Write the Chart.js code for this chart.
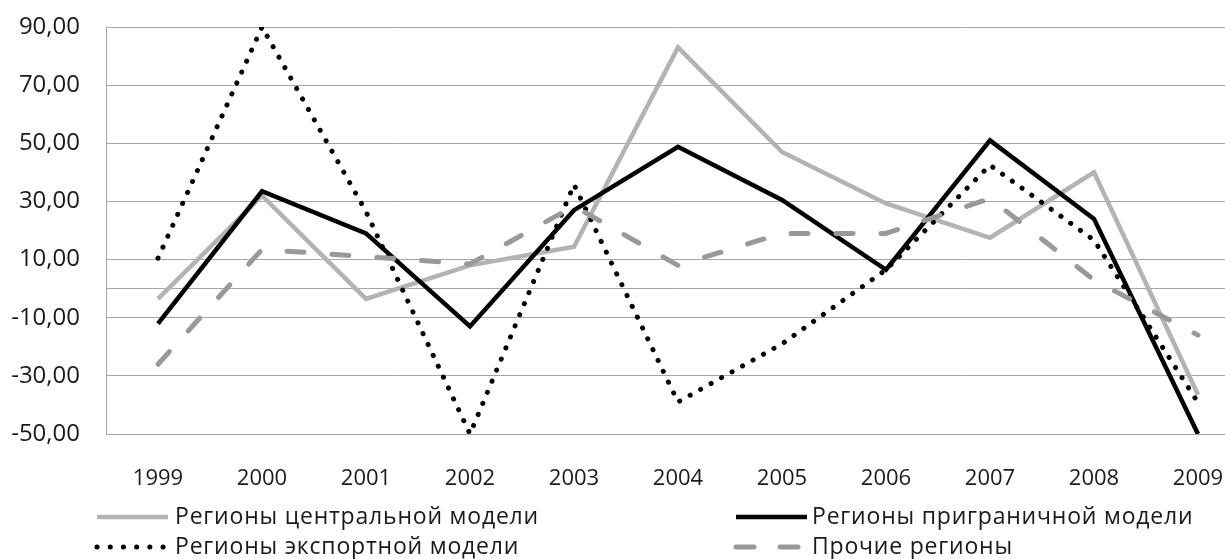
<!DOCTYPE html>
<html>
<head>
<meta charset="utf-8">
<script src="https://cdn.jsdelivr.net/npm/chart.js@4/dist/chart.umd.min.js"></script>
<style>
  html, body { margin: 0; padding: 0; background: #fff; overflow: hidden; }
  #wrap { width: 1260px; height: 559px; }
</style>
</head>
<body>
<div id="wrap"><canvas id="c" width="1260" height="559"></canvas></div>
<script>
// ---- data ----
const categories = ['1999','2000','2001','2002','2003','2004','2005','2006','2007','2008','2009'];
const seriesNames = ['Регионы центральной модели','Регионы приграничной модели','Регионы экспортной модели','Прочие регионы'];
const centralModel = [-3.5, 32, -3.5, 8, 14.4, 83, 47, 29.3, 17.5, 40, -36.5];
const borderModel  = [-12, 33.5, 19, -13, 27, 48.8, 30.5, 6.5, 51, 24, -50];
const exportModel  = [10.5, 90, 26.5, -50, 35.8, -39, -19, 6.5, 42.5, 16.7, -39.2];
const otherRegions = [-26, 13.5, 11, 8.5, 28.4, 8, 19, 19, 31, 3, -16];
const yTickValues  = [-50, -30, -10, 0, 10, 30, 50, 70, 90];
const yLabelledTicks = [-50, -30, -10, 10, 30, 50, 70, 90];

const FONT = "'Open Sans', 'Noto Sans', sans-serif";

const legendPlugin = {
  id: 'twoColLegend',
  afterDraw(chart) {
    const ctx = chart.ctx;
    const colLine = [97, 736];
    const colText = [175, 812];
    const rowY = [517, 547];
    chart.data.datasets.forEach((ds, i) => {
      const col = i % 2, row = Math.floor(i / 2);
      const y = rowY[row];
      ctx.save();
      ctx.strokeStyle = ds.borderColor;
      ctx.lineWidth = ds.borderWidth;
      ctx.lineCap = ds.borderCapStyle || 'butt';
      ctx.setLineDash(ds.legendDash || ds.borderDash || []);
      ctx.beginPath();
      ctx.moveTo(colLine[col], y);
      ctx.lineTo(colLine[col] + 71, y);
      ctx.stroke();
      ctx.setLineDash([]);
      ctx.fillStyle = '#1a1a1a';
      ctx.font = '23px ' + FONT;
      if ('letterSpacing' in ctx) ctx.letterSpacing = '0.8px';
      ctx.textBaseline = 'middle';
      ctx.textAlign = 'left';
      ctx.fillText(ds.label, colText[col], y);
      ctx.restore();
    });
  }
};

new Chart(document.getElementById('c'), {
  type: 'line',
  data: {
    labels: categories,
    datasets: [
      { label: seriesNames[0], data: centralModel, borderColor: '#b3b3b3', borderWidth: 4.5,
        borderCapStyle: 'butt', borderJoinStyle: 'miter', order: 4 },
      { label: seriesNames[1], data: borderModel, borderColor: '#000000', borderWidth: 4.5,
        borderCapStyle: 'butt', borderJoinStyle: 'miter', order: 3 },
      { label: seriesNames[2], data: exportModel, borderColor: '#000000', borderWidth: 5,
        borderDash: [0.1, 11.9], legendDash: [0.1, 13.1], borderCapStyle: 'round', borderJoinStyle: 'round', order: 2 },
      { label: seriesNames[3], data: otherRegions, borderColor: '#999999', borderWidth: 5,
        borderDash: [17, 28], legendDash: [18, 26], borderCapStyle: 'round', borderJoinStyle: 'round', order: 1 }
    ]
  },
  options: {
    responsive: false,
    devicePixelRatio: 1,
    animation: false,
    events: [],
    elements: { point: { radius: 0 }, line: { tension: 0 } },
    layout: { padding: { left: 0, right: 10, top: 27, bottom: 0 } },
    plugins: { legend: { display: false }, tooltip: { enabled: false }, title: { display: false } },
    scales: {
      x: {
        offset: true,
        grid: { display: false, drawTicks: false },
        border: { display: false },
        ticks: { color: '#1a1a1a', font: { family: FONT, size: 22 }, padding: 32, maxRotation: 0, autoSkip: false },
        afterFit(scale) { scale.height = 125; }
      },
      y: {
        min: -50, max: 90,
        afterBuildTicks(scale) { scale.ticks = yTickValues.map(v => ({ value: v })); },
        afterFit(scale) { scale.width = 106; scale.paddingTop = 0; scale.paddingBottom = 0; },
        grid: { color: '#a6a6a6', lineWidth: 1, drawTicks: false },
        border: { display: true, color: '#a6a6a6', width: 1 },
        ticks: {
          color: '#1a1a1a', font: { family: FONT, size: 24 }, padding: 26,
          callback(v) { return yLabelledTicks.includes(v) ? v.toFixed(2).replace('.', ',') : ''; }
        }
      }
    }
  },
  plugins: [legendPlugin]
});
</script>
</body>
</html>
